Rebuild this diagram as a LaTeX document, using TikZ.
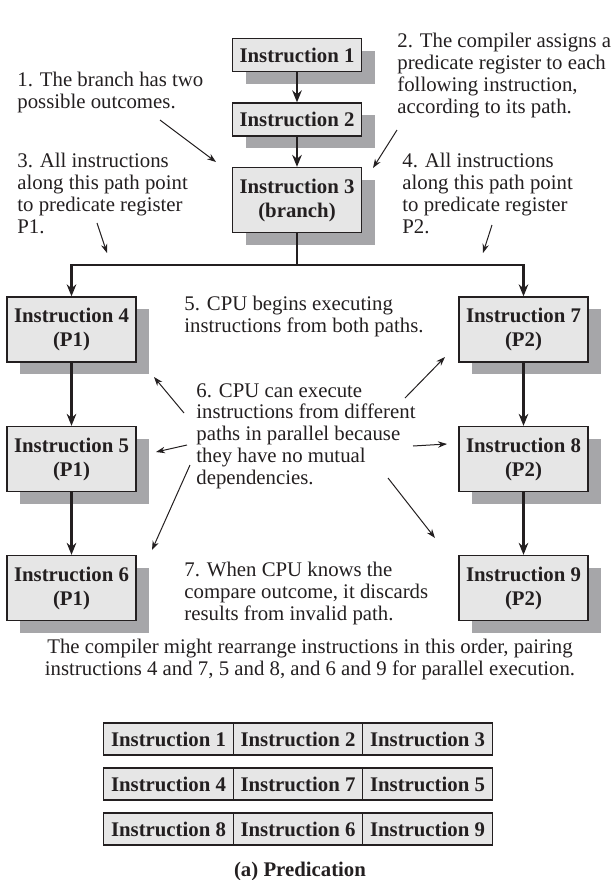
\documentclass[tikz,border=0pt]{standalone}
\usepackage{fontspec}
\setmainfont{Liberation Serif}
\usetikzlibrary{arrows.meta,shadows}
\definecolor{boxfill}{RGB}{230,230,230}
\definecolor{shadowc}{RGB}{166,166,169}
\definecolor{ink}{RGB}{35,31,32}
\begin{document}
\begin{tikzpicture}[x=0.5pt,y=-0.5pt,
  instr/.style={draw=ink, line width=0.65pt, fill=boxfill, text=ink,
    font=\fontsize{10.4}{12}\selectfont\bfseries, align=center,
    minimum width=64.5pt, inner sep=0pt,
    general shadow={fill=shadowc, shadow xshift=6.5pt, shadow yshift=-6.2pt}},
  one/.style={minimum height=16.5pt},
  two/.style={minimum height=32.5pt},
  cell/.style={draw=ink, line width=0.65pt, fill=boxfill, text=ink,
    font=\fontsize{10.4}{12}\selectfont\bfseries,
    minimum width=64.7pt, minimum height=16pt, inner sep=0pt},
  flow/.style={draw=ink, line width=1.25pt, -{Stealth[length=6pt,width=4.8pt]}},
  note/.style={font=\fontsize{10.4}{10.85}\selectfont, align=left,
    anchor=base west, inner sep=0pt, text=ink},
  pointer/.style={draw=ink, line width=0.5pt, -{Stealth[length=4.5pt,width=3.2pt]}},
]
\useasboundingbox (0,0) rectangle (616,880);

% flow boxes
\node[instr,one] (I1) at (297,55) {Instruction 1};
\node[instr,one] (I2) at (297,119.5) {Instruction 2};
\node[instr,two] (I3) at (297,200) {Instruction 3\\(branch)};
\node[instr,two] (I4) at (71.5,329.5) {Instruction 4\\(P1)};
\node[instr,two] (I5) at (71.5,459) {Instruction 5\\(P1)};
\node[instr,two] (I6) at (71.5,588) {Instruction 6\\(P1)};
\node[instr,two] (I7) at (523.5,329.5) {Instruction 7\\(P2)};
\node[instr,two] (I8) at (523.5,459) {Instruction 8\\(P2)};
\node[instr,two] (I9) at (523.5,588) {Instruction 9\\(P2)};

% flow connectors
\coordinate (J) at (297,265);
\draw[flow] (I1) -- (I2);
\draw[flow] (I2) -- (I3);
\draw[draw=ink, line width=1.25pt] (I3.south) -- (J);
\draw[flow] (J) -| (I4.north);
\draw[flow] (J) -| (I7.north);
\draw[flow] (I4) -- (I5);
\draw[flow] (I5) -- (I6);
\draw[flow] (I7) -- (I8);
\draw[flow] (I8) -- (I9);

% notes (anchor = baseline of last line)
\node[note] (n1) at (17,108) {1. The branch has two\\possible outcomes.};
\node[note] (n2) at (397,113) {2. The compiler assigns a\\predicate register to each\\following instruction,\\according to its path.};
\node[note] (n3) at (17,233) {3. All instructions\\along this path point\\to predicate register\\P1.};
\node[note] (n4) at (402,233) {4. All instructions\\along this path point\\to predicate register\\P2.};
\node[note] (n5) at (184,332) {5. CPU begins executing\\instructions from both paths.};
\node[note] (n6) at (196,484) {6. CPU can execute\\instructions from different\\paths in parallel because\\they have no mutual\\dependencies.};
\node[note] (n7) at (184,620) {7. When CPU knows the\\compare outcome, it discards\\results from invalid path.};

% pointer arrows
\coordinate (p1s) at (160,120); \coordinate (p1e) at (216,162);
\coordinate (p2s) at (397,130); \coordinate (p2e) at (373,168);
\coordinate (p3s) at (97,223);  \coordinate (p3e) at (107,253);
\coordinate (p4s) at (492,225); \coordinate (p4e) at (483,253);
\coordinate (p6as) at (184,413); \coordinate (p6ae) at (154,377);
\coordinate (p6bs) at (187,445); \coordinate (p6be) at (156,452);
\coordinate (p6cs) at (190,465); \coordinate (p6ce) at (152,550);
\coordinate (p6ds) at (405,398); \coordinate (p6de) at (445,357);
\coordinate (p6es) at (413,446); \coordinate (p6ee) at (447,444);
\coordinate (p6fs) at (388,478); \coordinate (p6fe) at (435,538);
\draw[pointer] (p1s) -- (p1e);
\draw[pointer] (p2s) -- (p2e);
\draw[pointer] (p3s) -- (p3e);
\draw[pointer] (p4s) -- (p4e);
\draw[pointer] (p6as) -- (p6ae);
\draw[pointer] (p6bs) -- (p6be);
\draw[pointer] (p6cs) -- (p6ce);
\draw[pointer] (p6ds) -- (p6de);
\draw[pointer] (p6es) -- (p6ee);
\draw[pointer] (p6fs) -- (p6fe);

% paragraph
\node[font=\fontsize{10.4}{10.85}\selectfont, align=center, anchor=base, inner sep=0pt, text=ink] (para) at (310,675)
  {The compiler might rearrange instructions in this order, pairing\\instructions 4 and 7, 5 and 8, and 6 and 9 for parallel execution.};

% table
\node[cell] (r1a) at (168.5,739) {Instruction 1};
\node[cell] (r1b) at (298,739) {Instruction 2};
\node[cell] (r1c) at (427.5,739) {Instruction 3};
\node[cell] (r2a) at (168.5,784) {Instruction 4};
\node[cell] (r2b) at (298,784) {Instruction 7};
\node[cell] (r2c) at (427.5,784) {Instruction 5};
\node[cell] (r3a) at (168.5,829) {Instruction 8};
\node[cell] (r3b) at (298,829) {Instruction 6};
\node[cell] (r3c) at (427.5,829) {Instruction 9};

% caption
\node[font=\fontsize{10.4}{12}\selectfont\bfseries, anchor=base, inner sep=0pt, text=ink] (cap) at (300,876) {(a) Predication};
\end{tikzpicture}
\end{document}
